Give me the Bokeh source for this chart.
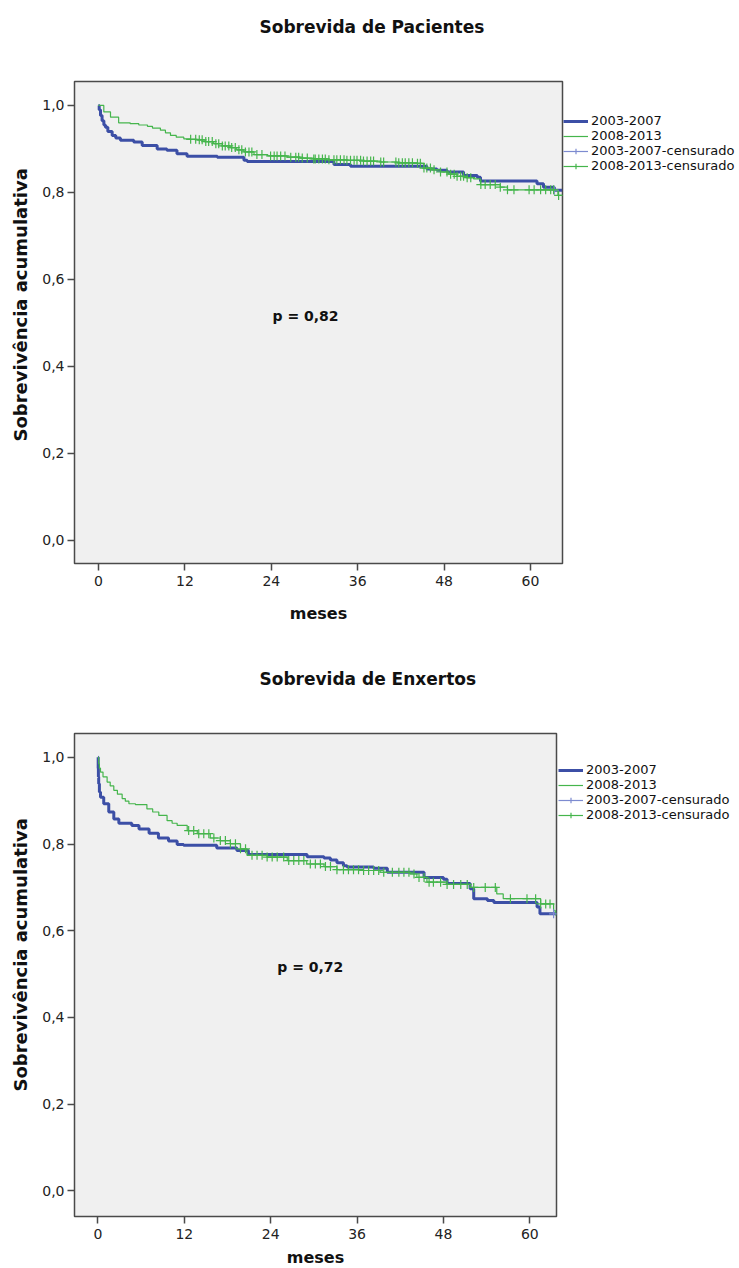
import numpy as np
from bokeh.plotting import figure
from bokeh.layouts import column
from bokeh.models import FixedTicker, Legend, LegendItem, Label, Range1d, Title
from bokeh.embed import file_html
from bokeh.resources import INLINE

FONT = "DejaVu Sans"
BLUE = "#3C4FA6"
BLUE_CENS = "#7D8BD0"
GREEN = "#45B54C"
BG = "#F0F0F0"
FRAME = "#4A4A4A"

x_ticks = [0, 12, 24, 36, 48, 60]
x_tick_labels = ["0", "12", "24", "36", "48", "60"]
y_ticks = [0.0, 0.2, 0.4, 0.6, 0.8, 1.0]
y_tick_labels = ["0,0", "0,2", "0,4", "0,6", "0,8", "1,0"]
series_names = ["2003-2007", "2008-2013", "2003-2007-censurado", "2008-2013-censurado"]
titles = ["Sobrevida de Pacientes", "Sobrevida de Enxertos"]
p_values = ["p = 0,82", "p = 0,72"]
x_label = "meses"
y_label = "Sobrevivência acumulativa"

# ---- Panel 1: Sobrevida de Pacientes ----
pac_blue_t = [0, 0.1, 0.28, 0.5, 0.75, 0.97, 1.3, 1.9, 2.4, 3.05, 4.9, 6.07, 8.15, 9.5,
              10.9, 12.3, 16.5, 20.2, 20.65, 32.7, 35.0, 45.6, 47.0, 48.4, 50.7, 52.6,
              53.05, 60.9, 61.8, 63.3, 64.4]
pac_blue_s = [1.0, 0.99, 0.977, 0.965, 0.955, 0.95, 0.94, 0.931, 0.925, 0.92, 0.916, 0.908,
              0.900, 0.897, 0.889, 0.883, 0.881, 0.874, 0.871, 0.864, 0.860, 0.854, 0.851,
              0.847, 0.839, 0.835, 0.826, 0.820, 0.812, 0.805, 0.805]
pac_green_t = [0, 0.74, 1.67, 2.8, 4.4, 5.6, 6.8, 7.5, 8.6, 9.3, 10.0, 10.8, 11.85, 12.7,
               13.7, 14.8, 16.0, 17.2, 18.3, 19.2, 20.2, 21.6, 23.5, 26.2, 28.0, 29.9,
               32.0, 34.5, 36.8, 39.2, 41.5, 44.3, 45.2, 46.3, 47.5, 48.6, 49.8, 51.0,
               52.1, 53.05, 55.8, 56.8, 63.8, 64.4]
pac_green_s = [1.0, 0.985, 0.973, 0.960, 0.958, 0.955, 0.952, 0.948, 0.943, 0.937, 0.931,
               0.927, 0.923, 0.922, 0.921, 0.917, 0.912, 0.907, 0.903, 0.898, 0.893, 0.887,
               0.884, 0.881, 0.879, 0.877, 0.875, 0.874, 0.872, 0.870, 0.868, 0.867, 0.856,
               0.852, 0.847, 0.842, 0.837, 0.834, 0.831, 0.818, 0.812, 0.806, 0.793, 0.793]
pac_blue_cens = [63.3]
pac_green_cens = [12.8, 13.5, 14.0, 14.4, 14.9, 15.3, 15.8, 16.3, 16.7, 17.2, 17.6, 18.1,
                  18.5, 19.0, 19.5, 19.9, 20.4, 20.9, 21.3, 22.0, 22.7, 23.9, 24.4, 24.8,
                  25.3, 25.9, 26.7, 27.4, 27.8, 28.3, 29.0, 29.9, 30.1, 30.6, 31.1, 31.5,
                  32.0, 32.7, 33.1, 33.6, 34.1, 34.5, 35.0, 35.5, 35.9, 36.4, 36.8, 37.3,
                  37.8, 38.2, 39.2, 39.6, 41.3, 41.7, 42.2, 42.6, 43.1, 43.6, 44.3, 44.7,
                  45.2, 45.6, 46.1, 46.6, 47.5, 48.4, 48.9, 49.4, 49.8, 50.3, 50.7, 51.2,
                  51.7, 53.1, 53.7, 54.4, 55.1, 55.8, 56.8, 57.7, 59.8, 60.5, 61.4, 62.1,
                  62.8, 63.2, 63.9]

# ---- Panel 2: Sobrevida de Enxertos ----
enx_blue_t = [0, 0.03, 0.06, 0.1, 0.2, 0.35, 0.8, 1.5, 2.2, 2.9, 4.7, 5.7, 7.1, 8.4, 9.8,
              11.0, 11.9, 16.5, 19.3, 20.9, 29.05, 31.4, 32.3, 33.2, 34.1, 34.6, 38.3,
              40.2, 45.3, 48.0, 48.5, 51.7, 52.2, 54.1, 55.0, 61.0, 61.4, 63.7]
enx_blue_s = [1.0, 0.975, 0.955, 0.939, 0.92, 0.908, 0.893, 0.874, 0.858, 0.848, 0.843,
              0.835, 0.825, 0.814, 0.807, 0.799, 0.797, 0.791, 0.785, 0.776, 0.771, 0.768,
              0.763, 0.757, 0.750, 0.747, 0.744, 0.735, 0.723, 0.719, 0.709, 0.697, 0.674,
              0.670, 0.665, 0.655, 0.639, 0.639]
enx_green_t = [0, 0.1, 0.2, 0.35, 0.7, 1.27, 1.7, 2.2, 2.7, 3.36, 3.8, 4.3, 5.2, 6.8, 7.6,
               8.45, 9.6, 10.3, 11.0, 12.4, 13.8, 15.6, 17.0, 18.4, 19.8, 20.7, 23.5, 26.3,
               29.0, 31.4, 33.2, 36.9, 39.2, 43.4, 44.3, 45.7, 48.5, 51.7, 55.4, 56.3,
               61.5, 63.3, 63.6]
enx_green_s = [1.0, 0.985, 0.975, 0.966, 0.955, 0.943, 0.934, 0.924, 0.915, 0.905, 0.899,
               0.893, 0.891, 0.881, 0.874, 0.866, 0.854, 0.848, 0.843, 0.831, 0.824, 0.814,
               0.808, 0.801, 0.789, 0.774, 0.770, 0.762, 0.754, 0.748, 0.741, 0.739, 0.735,
               0.731, 0.723, 0.712, 0.707, 0.700, 0.685, 0.674, 0.662, 0.646, 0.635]
enx_blue_cens = [63.3]
enx_green_cens = [12.6, 13.3, 14.0, 14.7, 15.4, 16.1, 17.0, 17.7, 18.4, 19.1, 19.8, 20.5,
                  21.4, 22.1, 22.8, 23.5, 24.2, 24.9, 25.8, 26.5, 27.2, 27.9, 28.6, 29.5,
                  30.2, 30.9, 31.6, 32.3, 33.2, 34.1, 34.8, 35.5, 36.2, 36.9, 37.6, 38.3,
                  39.0, 39.7, 40.9, 41.8, 42.5, 43.2, 43.9, 44.6, 45.3, 46.0, 46.6, 47.6,
                  48.5, 49.4, 50.4, 51.3, 52.2, 53.8, 55.2, 57.3, 59.6, 60.8, 61.5, 62.2,
                  62.8]


def km_at(times, surv, t_query):
    """Survival level of the step curve at each censoring time."""
    idx = np.searchsorted(np.asarray(times), np.asarray(t_query), side="right") - 1
    return list(np.asarray(surv)[idx])


def make_panel(title, bt, bs, gt, gs, bc, gc, ptext, x_rng, y_rng, frame_w, frame_h,
               b_top, b_bottom, leg_x, leg_y, xl_standoff, p_pos, ylab_offset):
    p = figure(frame_width=frame_w, frame_height=frame_h,
               x_range=Range1d(*x_rng), y_range=Range1d(*y_rng),
               output_backend="svg", toolbar_location=None,
               min_border_left=74, min_border_right=739 - 74 - frame_w,
               min_border_top=b_top, min_border_bottom=b_bottom,
               background_fill_color=BG, border_fill_color="white")
    p.grid.visible = False
    p.outline_line_color = FRAME
    p.outline_line_width = 1.5

    # spacer between frame and the chart title
    p.title.text = ""
    p.title.standoff = 0
    p.add_layout(Title(text=" ", text_font_size="1px", standoff=40), "above")
    p.add_layout(Title(text=title, align="left", offset=185, vertical_align="top",
                       standoff=0, text_font=FONT, text_font_size="17px",
                       text_font_style="bold", text_color="#111111"), "above")

    for ax in (p.xaxis[0], p.yaxis[0]):
        ax.axis_line_color = None
        ax.major_tick_line_color = FRAME
        ax.major_tick_line_width = 1.5
        ax.major_tick_in = 0
        ax.major_tick_out = 7
        ax.minor_tick_line_color = None
        ax.major_label_text_font = FONT
        ax.major_label_text_font_size = "14px"
        ax.major_label_text_color = "#222222"
        ax.axis_label_text_font = FONT
        ax.axis_label_text_font_style = "bold"
        ax.axis_label_text_color = "#111111"

    p.xaxis.ticker = FixedTicker(ticks=x_ticks)
    p.xaxis.major_label_overrides = dict(zip(x_ticks, x_tick_labels))
    p.xaxis.axis_label = x_label
    p.xaxis.axis_label_text_font_size = "16px"
    p.xaxis.axis_label_standoff = xl_standoff
    p.xaxis.major_label_standoff = 5

    p.yaxis.ticker = FixedTicker(ticks=y_ticks)
    p.yaxis.major_label_overrides = dict(zip(y_ticks, y_tick_labels))
    p.yaxis.major_label_standoff = 3
    # y-axis label as a side title so that it can sit where the reference has it
    p.add_layout(Title(text=y_label, align="left", offset=ylab_offset,
                       vertical_align="top", standoff=14, text_font=FONT,
                       text_font_size="18px", text_font_style="bold",
                       text_color="#111111"), "left")

    r_blue = p.step(bt, bs, mode="after", line_color=BLUE, line_width=3)
    r_green = p.step(gt, gs, mode="after", line_color=GREEN, line_width=1.2)
    r_bc = p.scatter(bc, km_at(bt, bs, bc), marker="cross", size=9,
                     line_color=BLUE_CENS, line_width=1.2)
    r_gc = p.scatter(gc, km_at(gt, gs, gc), marker="cross", size=9,
                     line_color=GREEN, line_width=1.2)
    # legend-only line keys for the censoring entries (draw nothing in the plot)
    k_bc = p.line([np.nan], [np.nan], line_color=BLUE_CENS, line_width=1.2)
    k_gc = p.line([np.nan], [np.nan], line_color=GREEN, line_width=1.2)

    p.add_layout(Label(x=p_pos[0], y=p_pos[1], text=ptext, text_align="center",
                       text_baseline="middle", text_font=FONT, text_font_size="14px",
                       text_font_style="bold", text_color="#111111"))

    legend = Legend(items=[LegendItem(label=series_names[0], renderers=[r_blue]),
                           LegendItem(label=series_names[1], renderers=[r_green]),
                           LegendItem(label=series_names[2], renderers=[k_bc, r_bc]),
                           LegendItem(label=series_names[3], renderers=[k_gc, r_gc])],
                    location=(leg_x, leg_y), orientation="vertical",
                    label_text_font=FONT, label_text_font_size="13px",
                    label_text_color="#111111",
                    glyph_width=25, glyph_height=14, label_height=14,
                    label_standoff=3, spacing=0, padding=0, margin=0,
                    border_line_color=None, background_fill_alpha=0)
    p.add_layout(legend, "right")
    return p


p1 = make_panel(titles[0], pac_blue_t, pac_blue_s, pac_green_t, pac_green_s,
                pac_blue_cens, pac_green_cens, p_values[0],
                (-3.33, 64.44), (-0.053, 1.055), 488, 482, 81, 77,
                1, 390, 15, (28.75, 0.517), 122)
p2 = make_panel(titles[1], enx_blue_t, enx_blue_s, enx_green_t, enx_green_s,
                enx_blue_cens, enx_green_cens, p_values[1],
                (-3.26, 63.7), (-0.059, 1.055), 482, 483, 93, 52,
                2, 394, 6, (29.5, 0.517), 125)

layout = column(p1, p2, spacing=0)
open("out.html", "w").write(file_html(layout, INLINE))
